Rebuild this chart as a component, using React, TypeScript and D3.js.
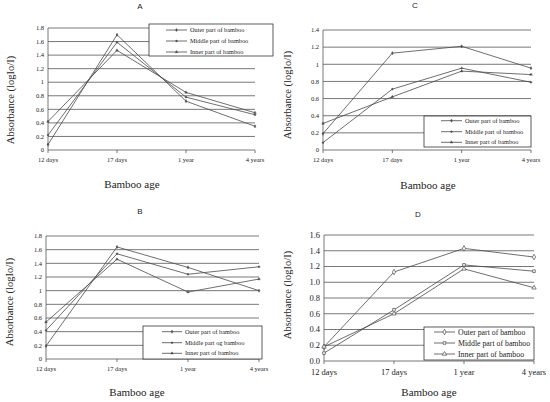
import * as d3 from 'd3';

const categories = ['12 days', '17 days', '1 year', '4 years'];
const seriesNames = ['Outer part of bamboo', 'Middle part of bamboo', 'Inner part of bamboo'];
const seriesNamesB = ['Outer part of bamboo', 'Middle part og bamboo', 'Inner part of bamboo'];

const outerA = [0.08, 1.7, 0.72, 0.35];
const middleA = [0.22, 1.59, 0.78, 0.52];
const innerA = [0.42, 1.47, 0.85, 0.55];

const outerB = [0.19, 1.64, 1.34, 1.0];
const middleB = [0.42, 1.54, 1.24, 1.35];
const innerB = [0.54, 1.46, 0.98, 1.17];

const outerC = [0.19, 1.13, 1.21, 0.955];
const middleC = [0.086, 0.71, 0.955, 0.79];
const innerC = [0.31, 0.62, 0.92, 0.88];

const outerD = [0.18, 1.13, 1.43, 1.32];
const middleD = [0.1, 0.65, 1.22, 1.14];
const innerD = [0.18, 0.6, 1.17, 0.93];

const ticksA = [0, 0.2, 0.4, 0.6, 0.8, 1, 1.2, 1.4, 1.6, 1.8];
const ticksC = [0, 0.2, 0.4, 0.6, 0.8, 1, 1.2, 1.4];
const ticksD = [0, 0.2, 0.4, 0.6, 0.8, 1, 1.2, 1.4, 1.6];

const SERIF = '"Liberation Serif", "DejaVu Serif", serif';
const SANS = '"Liberation Sans", Arial, sans-serif';
const INK = '#4a4a4a';

interface PanelProps {
  title: string;
  series: number[][];
  names: string[];
  ticks: number[];
  fmt: (v: number) => string;
  plot: { left: number; right: number; top: number; bottom: number };
  titlePos: [number, number];
  yLabelPos: [number, number];
  xLabelPos: [number, number];
  legend: { x: number; y: number; w: number; h: number; lineX: number; textX: number; rows: number[] };
  tickFont: number;
  legendFont: number;
  open?: boolean;
}

function Marker({ kind, x, y, open }: { kind: number; x: number; y: number; open?: boolean }) {
  const sym = open
    ? [d3.symbolDiamond, d3.symbolSquare, d3.symbolTriangle][kind]
    : [d3.symbolDiamond, d3.symbolCircle, d3.symbolTriangle][kind];
  const size = open ? [9, 7, 8][kind] : [3, 2.5, 3][kind];
  const path = d3.symbol().type(sym).size(size)() ?? '';
  return (
    <path
      d={path}
      transform={`translate(${x},${y})`}
      fill={open ? '#fff' : INK}
      stroke={INK}
      strokeWidth={open ? 0.7 : 0.4}
    />
  );
}

function Panel(p: PanelProps) {
  const x = d3.scalePoint<string>().domain(categories).range([p.plot.left, p.plot.right]);
  const y = d3
    .scaleLinear()
    .domain([0, p.ticks[p.ticks.length - 1]])
    .range([p.plot.bottom, p.plot.top]);
  const line = d3
    .line<number>()
    .x((_, i) => x(categories[i]) as number)
    .y((d) => y(d));

  return (
    <g>
      <text x={p.titlePos[0]} y={p.titlePos[1]} fontFamily={SANS} fontSize={8} textAnchor="middle" fill="#222">
        {p.title}
      </text>
      {/* grid */}
      {p.ticks.map((t) => (
        <line key={t} x1={p.plot.left} x2={p.plot.right} y1={y(t)} y2={y(t)} stroke="#555" strokeWidth={0.8} />
      ))}
      <line x1={p.plot.left} x2={p.plot.left} y1={p.plot.top} y2={p.plot.bottom} stroke="#555" strokeWidth={0.8} />
      {/* y ticks */}
      {p.ticks.map((t) => (
        <text
          key={t}
          x={p.plot.left - 4}
          y={y(t) + p.tickFont * 0.35}
          fontFamily={SERIF}
          fontSize={p.tickFont}
          textAnchor="end"
          fill="#222"
        >
          {p.fmt(t)}
        </text>
      ))}
      {/* x ticks */}
      {categories.map((c) => (
        <g key={c}>
          <line x1={x(c)} x2={x(c)} y1={p.plot.bottom} y2={p.plot.bottom + 3} stroke="#555" strokeWidth={0.8} />
          <text
            x={x(c)}
            y={p.plot.bottom + 5 + p.tickFont}
            fontFamily={SERIF}
            fontSize={p.tickFont}
            textAnchor="middle"
            fill="#222"
          >
            {c}
          </text>
        </g>
      ))}
      {/* series */}
      {p.series.map((s, k) => (
        <g key={k}>
          <path d={line(s) ?? ''} fill="none" stroke={INK} strokeWidth={0.8} />
          {s.map((v, i) => (
            <Marker key={i} kind={k} x={x(categories[i]) as number} y={y(v)} open={p.open} />
          ))}
        </g>
      ))}
      {/* axis labels */}
      <text
        transform={`translate(${p.yLabelPos[0]},${p.yLabelPos[1]}) rotate(-90)`}
        fontFamily={SERIF}
        fontSize={10.5}
        textAnchor="middle"
        fill="#222"
      >
        Absorbance (logIo/I)
      </text>
      <text x={p.xLabelPos[0]} y={p.xLabelPos[1]} fontFamily={SERIF} fontSize={11} textAnchor="middle" fill="#222">
        Bamboo age
      </text>
      {/* legend */}
      <rect x={p.legend.x} y={p.legend.y} width={p.legend.w} height={p.legend.h} fill="#fff" stroke="#333" strokeWidth={0.8} />
      {p.names.map((n, k) => {
        const ry = p.legend.rows[k];
        const lx0 = p.legend.lineX;
        const lx1 = p.legend.textX - 3;
        return (
          <g key={n}>
            <line x1={lx0} x2={lx1} y1={ry} y2={ry} stroke={INK} strokeWidth={0.8} />
            <Marker kind={k} x={(lx0 + lx1) / 2} y={ry} open={p.open} />
            <text x={p.legend.textX} y={ry + p.legendFont * 0.33} fontFamily={SERIF} fontSize={p.legendFont} fill="#222">
              {n}
            </text>
          </g>
        );
      })}
    </g>
  );
}

const short = (v: number) => d3.format('~g')(v);
const oneDec = d3.format('.1f');

export default function App() {
  return (
    <div style={{ position: 'absolute', left: 0, top: 0 }}>
      <svg width={550} height={402} viewBox="0 0 550 402" style={{ display: 'block', background: '#fff' }}>
        <Panel
          title="A"
          series={[outerA, middleA, innerA]}
          names={seriesNames}
          ticks={ticksA}
          fmt={short}
          plot={{ left: 48, right: 255, top: 28, bottom: 150 }}
          titlePos={[140, 9]}
          yLabelPos={[14, 100]}
          xLabelPos={[132, 188]}
          legend={{ x: 149, y: 24, w: 124, h: 32, lineX: 166, textX: 190, rows: [30, 41, 52] }}
          tickFont={6.5}
          legendFont={6.3}
        />
        <Panel
          title="C"
          series={[outerC, middleC, innerC]}
          names={seriesNames}
          ticks={ticksC}
          fmt={short}
          plot={{ left: 323, right: 531, top: 30, bottom: 150 }}
          titlePos={[415, 8]}
          yLabelPos={[291, 95]}
          xLabelPos={[428, 189]}
          legend={{ x: 424, y: 116, w: 107, h: 31, lineX: 441, textX: 465, rows: [120.7, 131.7, 142.3] }}
          tickFont={6.5}
          legendFont={6.3}
        />
        <Panel
          title="B"
          series={[outerB, middleB, innerB]}
          names={seriesNamesB}
          ticks={ticksA}
          fmt={short}
          plot={{ left: 46, right: 259, top: 236, bottom: 359 }}
          titlePos={[140, 214]}
          yLabelPos={[13, 302]}
          xLabelPos={[137, 396]}
          legend={{ x: 143, y: 326, w: 119, h: 33, lineX: 162, textX: 185, rows: [331.7, 342.7, 353.3] }}
          tickFont={6.5}
          legendFont={6.3}
        />
        <Panel
          title="D"
          series={[outerD, middleD, innerD]}
          names={seriesNames}
          ticks={ticksD}
          fmt={oneDec}
          plot={{ left: 324, right: 534, top: 235, bottom: 361 }}
          titlePos={[418, 217]}
          yLabelPos={[291, 295]}
          xLabelPos={[429, 396]}
          legend={{ x: 424, y: 327, w: 110, h: 33, lineX: 434, textX: 458, rows: [332, 343, 354] }}
          tickFont={8.5}
          legendFont={7.8}
          open
        />
      </svg>
    </div>
  );
}
